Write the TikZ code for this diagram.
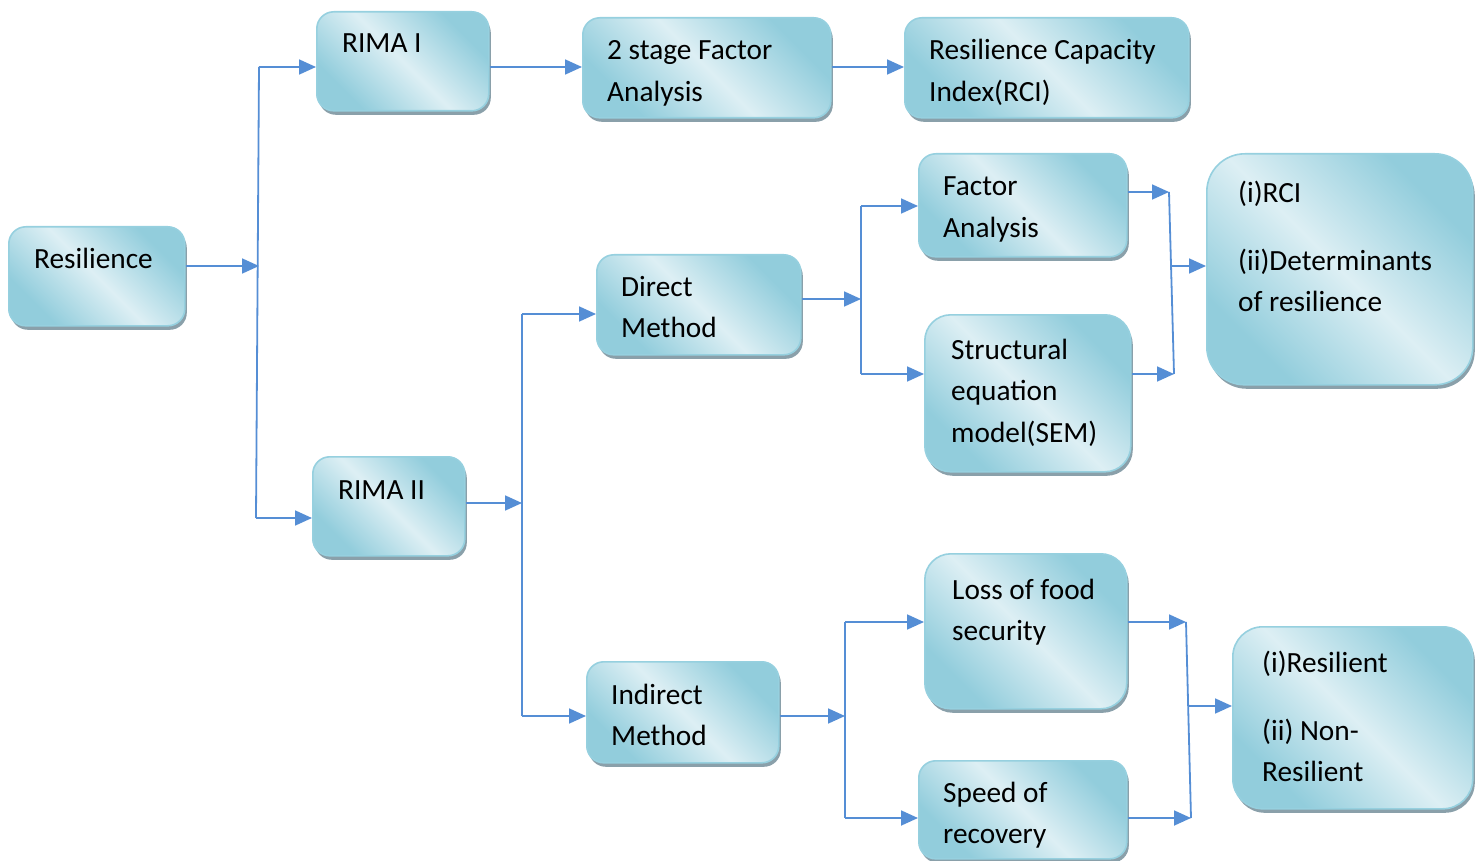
\documentclass[tikz,border=0pt]{standalone}
\usepackage{fontspec}
\setmainfont{Carlito}
\usetikzlibrary{arrows.meta,shadows,calc}
\definecolor{dk}{RGB}{146,205,220}
\definecolor{lt}{RGB}{221,239,244}
\definecolor{bordc}{RGB}{150,208,223}
\definecolor{shadc}{RGB}{138,160,170}
\definecolor{linec}{RGB}{85,142,213}
\pgfdeclarehorizontalshading{boxshade}{100bp}{color(0bp)=(dk); color(27bp)=(dk); color(50bp)=(lt); color(73bp)=(dk); color(100bp)=(dk)}
\tikzset{
  box/.style={draw=bordc, line width=1.6pt, shading=boxshade, shading angle=45,
    anchor=north west, inner sep=0pt,
    drop shadow={shadow xshift=2pt, shadow yshift=-4pt, fill=shadc, opacity=1}},
  txt/.style={anchor=base west, inner sep=0pt, align=left, text width=#1,
    font=\fontsize{29.3}{41.5}\selectfont,
    execute at begin node={\spaceskip=0pt\xspaceskip=0pt\relax}},
  txt/.default=300pt,
  ln/.style={draw=linec, line width=1.8pt},
  arr/.style={ln, -{Triangle[length=17pt,width=15pt]}},
}
\begin{document}
\begin{tikzpicture}[x=1pt,y=-1pt]
\useasboundingbox (0,0) rectangle (1478,861);
% boxes
\node[box, minimum width=176pt, minimum height=99pt, rounded corners=17pt] (res) at (8,226) {};
\node[box, minimum width=172pt, minimum height=99pt, rounded corners=17pt] (rima1) at (316,11) {};
\node[box, minimum width=248pt, minimum height=100pt, rounded corners=17pt] (fa2) at (582,17) {};
\node[box, minimum width=284pt, minimum height=100pt, rounded corners=17pt] (rci) at (904,17) {};
\node[box, minimum width=208pt, minimum height=103pt, rounded corners=17pt] (fa) at (918,153) {};
\node[box, minimum width=266pt, minimum height=231pt, rounded corners=38pt] (out1) at (1206,153) {};
\node[box, minimum width=204pt, minimum height=100pt, rounded corners=17pt] (direct) at (596,254) {};
\node[box, minimum width=206pt, minimum height=157pt, rounded corners=26pt] (sem) at (924,314) {};
\node[box, minimum width=152pt, minimum height=99pt, rounded corners=17pt] (rima2) at (312,456) {};
\node[box, minimum width=202pt, minimum height=155pt, rounded corners=26pt] (loss) at (924,553) {};
\node[box, minimum width=192pt, minimum height=101pt, rounded corners=17pt] (indirect) at (586,661) {};
\node[box, minimum width=208pt, minimum height=98pt, rounded corners=17pt] (speed) at (918,760) {};
\node[box, minimum width=240pt, minimum height=182pt, rounded corners=30pt] (out2) at (1232,626) {};
% texts
\node[txt] (tres) at (34,269) {Resilience};
\node[txt] (trima1) at (342,53) {RIMA I};
\node[txt] (tfa2) at (607,60) {2 stage Factor\\Analysis};
\node[txt] (trci) at (929,60) {Resilience Capacity\\Index(RCI)};
\node[txt] (tfa) at (943,196) {Factor\\Analysis};
\node[txt] (tout1a) at (1238,203) {(i)RCI};
\node[txt] (tout1b) at (1238,270) {(ii)Determinants\\of resilience};
\node[txt] (tdirect) at (621,296) {Direct\\Method};
\node[txt] (tsem) at (951,359) {Structural\\equation\\model(SEM)};
\node[txt] (trima2) at (338,499) {RIMA II};
\node[txt] (tloss) at (952,599) {Loss of food\\security};
\node[txt] (tindirect) at (611,704) {Indirect\\Method};
\node[txt] (tspeed) at (943,802) {Speed of\\recovery};
\node[txt] (tout2a) at (1262,672) {(i)Resilient};
\node[txt] (tout2b) at (1262,740) {(ii) Non-\\Resilient};
% junctions
\coordinate (j1) at (259,266);
\coordinate (j1t) at (259,67);
\coordinate (j1b) at (256,518);
\coordinate (j2) at (522,503);
\coordinate (j2t) at (522,314);
\coordinate (j2b) at (522,716);
\coordinate (j3) at (861,299);
\coordinate (j3t) at (861,206);
\coordinate (j3b) at (861,374);
\coordinate (j4) at (1170,266);
\coordinate (j4t) at (1169,192);
\coordinate (j4b) at (1174,374);
\coordinate (j5) at (845,716);
\coordinate (j5t) at (845,622);
\coordinate (j5b) at (845,818);
\coordinate (j6) at (1188,706);
\coordinate (j6t) at (1186,622);
\coordinate (j6b) at (1191,818);
% connectors
\draw[ln] (j1t) -- (j1b);
\draw[arr] (res.east |- j1) -- (j1);
\draw[arr] (j1t) -- (j1t -| rima1.west);
\draw[arr] (j1b) -- (j1b -| rima2.west);
\draw[arr] (rima1.east |- j1t) -- (fa2.west |- j1t);
\draw[arr] (fa2.east |- j1t) -- (rci.west |- j1t);
\draw[ln] (j2t) -- (j2b);
\draw[arr] (rima2.east |- j2) -- (j2);
\draw[arr] (j2t) -- (j2t -| direct.west);
\draw[arr] (j2b) -- (j2b -| indirect.west);
\draw[ln] (j3t) -- (j3b);
\draw[arr] (direct.east |- j3) -- (j3);
\draw[arr] (j3t) -- (j3t -| fa.west);
\draw[arr] (j3b) -- (j3b -| sem.west);
\draw[ln] (j4t) -- (j4b);
\draw[arr] (fa.east |- j4t) -- (j4t);
\draw[arr] (sem.east |- j4b) -- (j4b);
\draw[arr] (j4) -- (j4 -| out1.west);
\draw[ln] (j5t) -- (j5b);
\draw[arr] (indirect.east |- j5) -- (j5);
\draw[arr] (j5t) -- (j5t -| loss.west);
\draw[arr] (j5b) -- (j5b -| speed.west);
\draw[ln] (j6t) -- (j6b);
\draw[arr] (loss.east |- j6t) -- (j6t);
\draw[arr] (speed.east |- j6b) -- (j6b);
\draw[arr] (j6) -- (j6 -| out2.west);
\end{tikzpicture}
\end{document}
